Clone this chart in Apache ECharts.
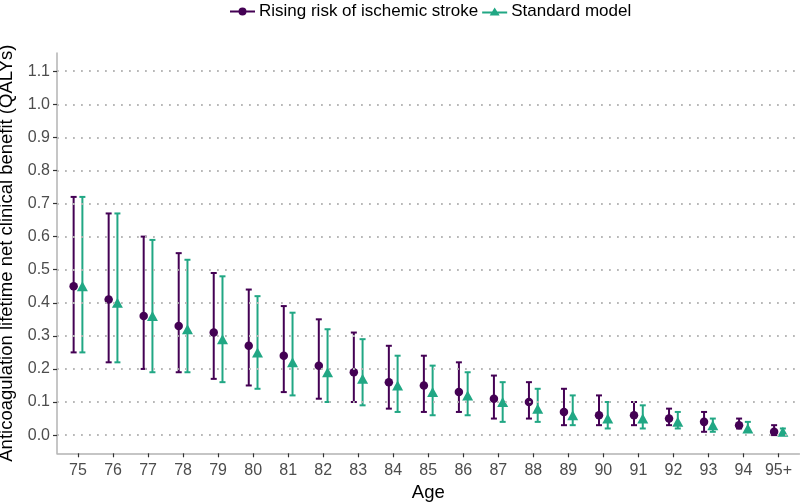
<!DOCTYPE html>
<html>
<head>
<meta charset="utf-8">
<script src="https://cdn.jsdelivr.net/npm/echarts@6/dist/echarts.min.js"></script>
<style>html,body{margin:0;padding:0;background:#fff}#chart{width:800px;height:504px}</style>
</head>
<body>
<div id="chart"></div>
<script>
const ages = ['75','76','77','78','79','80','81','82','83','84','85','86','87','88','89','90','91','92','93','94','95+'];
const risingMean = [0.45,0.41,0.36,0.33,0.31,0.27,0.24,0.21,0.19,0.16,0.15,0.13,0.11,0.10,0.07,0.06,0.06,0.05,0.04,0.03,0.01];
const risingLow  = [0.25,0.22,0.20,0.19,0.17,0.15,0.13,0.11,0.10,0.08,0.07,0.07,0.05,0.05,0.03,0.03,0.03,0.03,0.01,0.02,0.00];
const risingHigh = [0.72,0.67,0.60,0.55,0.49,0.44,0.39,0.35,0.31,0.27,0.24,0.22,0.18,0.16,0.14,0.12,0.10,0.08,0.07,0.05,0.03];
const stdMean = [0.45,0.40,0.36,0.32,0.29,0.25,0.22,0.19,0.17,0.15,0.13,0.12,0.10,0.08,0.06,0.05,0.05,0.04,0.03,0.02,0.01];
const stdLow  = [0.25,0.22,0.19,0.19,0.16,0.14,0.12,0.10,0.09,0.07,0.06,0.06,0.04,0.04,0.03,0.02,0.02,0.02,0.01,0.01,0.00];
const stdHigh = [0.72,0.67,0.59,0.53,0.48,0.42,0.37,0.32,0.29,0.24,0.21,0.19,0.16,0.14,0.12,0.10,0.09,0.07,0.05,0.04,0.02];
const yTicks = [0, 0.1, 0.2, 0.3, 0.4, 0.5, 0.6, 0.7, 0.8, 0.9, 1.0, 1.1];
const seriesNames = ['Rising risk of ischemic stroke', 'Standard model'];

const PURPLE = '#440154', GREEN = '#21A784';
const DODGE = 0.125;
const xIdx = ages.map((a, i) => i);

function errData(low, high, off) { return xIdx.map(i => [i + off, low[i], high[i]]); }
function ptData(mean, off) { return xIdx.map(i => [i + off, mean[i]]); }

function errRender(color) {
  return function (params, api) {
    const x = api.value(0);
    const lo = api.coord([x, api.value(1)]);
    const hi = api.coord([x, api.value(2)]);
    const cw = 3;
    const st = { stroke: color, lineWidth: 2 };
    return {
      type: 'group',
      children: [
        { type: 'line', shape: { x1: lo[0], y1: lo[1], x2: hi[0], y2: hi[1] }, style: st },
        { type: 'line', shape: { x1: lo[0] - cw, y1: lo[1], x2: lo[0] + cw, y2: lo[1] }, style: st },
        { type: 'line', shape: { x1: hi[0] - cw, y1: hi[1], x2: hi[0] + cw, y2: hi[1] }, style: st }
      ]
    };
  };
}

const chart = echarts.init(document.getElementById('chart'), null, { renderer: 'canvas' });
chart.setOption({
  animation: false,
  backgroundColor: '#ffffff',
  textStyle: { fontFamily: 'Liberation Sans, Arial, sans-serif' },
  legend: {
    left: 225, top: -2,
    itemWidth: 25, itemHeight: 8, itemGap: 4,
    textStyle: { fontSize: 17, color: '#000', padding: [0, 0, 0, -1] },
    data: [
      { name: seriesNames[0], icon: 'path://M0,4.1H25V5.9H0Z M16.5,5A4,4 0 1 1 8.5,5A4,4 0 1 1 16.5,5Z', itemStyle: { color: PURPLE } },
      { name: seriesNames[1], icon: 'path://M0,5.1H25V6.9H0Z M12.5,1L17.5,9L7.5,9Z', itemStyle: { color: GREEN } }
    ]
  },
  grid: { left: 57, right: 0.5, top: 53, bottom: 50.7, containLabel: false, outerBoundsMode: 'none' },
  xAxis: {
    type: 'value', min: -0.6, max: 20.6,
    name: 'Age', nameLocation: 'middle', nameGap: 30,
    nameTextStyle: { fontSize: 18.5, color: '#000' },
    axisLine: { show: true, onZero: false, lineStyle: { color: '#b3b3b3', width: 1.5 } },
    axisTick: { show: true, length: 4, customValues: xIdx, lineStyle: { color: '#333', width: 1.2 } },
    axisLabel: { show: true, customValues: xIdx, fontSize: 16, color: '#4d4d4d', margin: 9,
      formatter: v => ages[Math.round(v)] },
    splitLine: { show: false }
  },
  yAxis: {
    type: 'value', min: -0.055, max: 1.155,
    name: 'Anticoagulation lifetime net clinical benefit (QALYs)', nameLocation: 'middle', nameGap: 38,
    nameTextStyle: { fontSize: 18.5, color: '#000' },
    axisLine: { show: true, onZero: false, lineStyle: { color: '#b3b3b3', width: 1.5 } },
    axisTick: { show: true, length: 4, customValues: yTicks, lineStyle: { color: '#333', width: 1.2 } },
    axisLabel: { show: true, customValues: yTicks, fontSize: 16, color: '#4d4d4d', margin: 7,
      formatter: v => v.toFixed(1) },
    splitLine: { show: false }
  },
  series: [
    {
      type: 'line', name: '_grid', data: [], silent: true, z: 0,
      markLine: {
        silent: true, symbol: ['none', 'none'], label: { show: false },
        lineStyle: { color: '#b8b8b8', type: [1.8, 6.2], width: 1.8 },
        emphasis: { disabled: true },
        data: yTicks.map(v => ({ yAxis: v }))
      }
    },
    { type: 'custom', name: seriesNames[0], renderItem: errRender(PURPLE), data: errData(risingLow, risingHigh, -DODGE), z: 2, itemStyle: { color: PURPLE } },
    { type: 'custom', name: seriesNames[1], renderItem: errRender(GREEN), data: errData(stdLow, stdHigh, DODGE), z: 2, itemStyle: { color: GREEN } },
    { type: 'scatter', name: seriesNames[0], symbol: 'circle', symbolSize: 8.5, data: ptData(risingMean, -DODGE), itemStyle: { color: PURPLE, opacity: 1 }, z: 3 },
    { type: 'scatter', name: seriesNames[1], symbol: 'triangle', symbolSize: [11, 10], data: ptData(stdMean, DODGE), itemStyle: { color: GREEN, opacity: 1 }, z: 3 }
  ]
});
</script>
</body>
</html>
